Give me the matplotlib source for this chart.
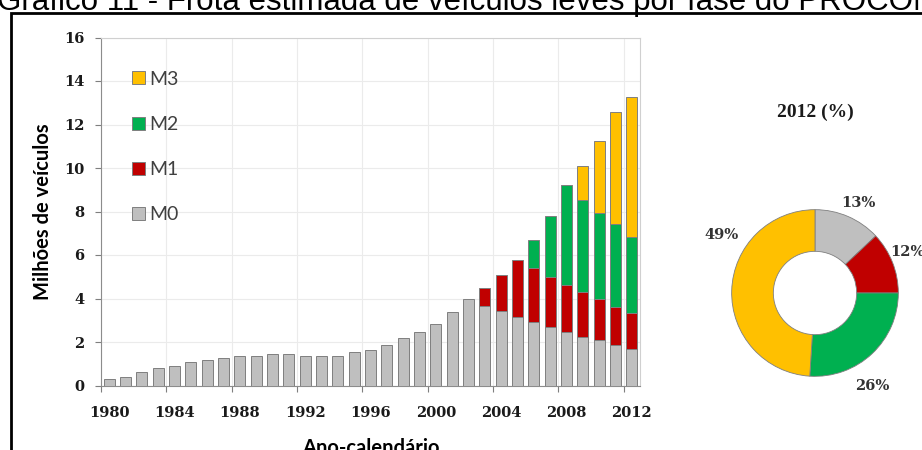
import matplotlib.pyplot as plt
import matplotlib.patches as mpatches
import numpy as np

# Frota por fase (milhões de veículos), 1980-2012
anos = list(range(1980, 2013))
m0 = [0.28, 0.39, 0.62, 0.82, 0.91, 1.08, 1.17, 1.26, 1.34, 1.36, 1.45, 1.45,
      1.36, 1.36, 1.36, 1.53, 1.62, 1.87, 2.19, 2.48, 2.84, 3.37, 3.98, 3.65,
      3.42, 3.14, 2.91, 2.71, 2.48, 2.25, 2.07, 1.88, 1.69]
m1 = [0] * 23 + [0.82, 1.67, 2.65, 2.48, 2.27, 2.15, 2.04, 1.91, 1.75, 1.64]
m2 = [0] * 26 + [1.31, 2.81, 4.57, 4.22, 3.94, 3.80, 3.49]
m3 = [0] * 29 + [1.59, 3.30, 5.14, 6.44]

# composição em 2012 (%)
fases = ["M0", "M1", "M2", "M3"]
pct_2012 = [13, 12, 26, 49]

cores = {"M0": "#BFBFBF", "M1": "#C00000", "M2": "#00B050", "M3": "#FFC000"}
borda = "#7F7F7F"

fig = plt.figure(figsize=(9.22, 4.5), dpi=100)

# título (cortado no topo)
fig.text(-0.003, 1 - 10 / 450, "Gráfico 11 - Frota estimada de veículos leves por fase do PROCONVE",
         family="Liberation Sans", fontsize=22.5, va="baseline", ha="left")

# moldura
fig.patches.append(mpatches.Rectangle((11 / 922, -0.1), 1.2, 1 - 13 / 450 + 0.1,
                                      transform=fig.transFigure, fill=False,
                                      edgecolor="black", linewidth=2))

# barras empilhadas
ax = fig.add_axes([101 / 922, 1 - 385.5 / 450, 539 / 922, 348 / 450])
x = np.arange(len(anos))
base = np.zeros(len(anos))
for nome, vals in [("M0", m0), ("M1", m1), ("M2", m2), ("M3", m3)]:
    vals = np.array(vals)
    mask = vals > 0
    ax.bar(x[mask], vals[mask], bottom=base[mask], width=0.66, color=cores[nome],
           edgecolor=borda, linewidth=0.7, zorder=3)
    base = base + vals

ax.set_xlim(-0.5, len(anos) - 0.5)
ax.set_ylim(0, 16)
ax.set_yticks(range(0, 17, 2))
# marcas entre categorias, rótulos no centro das barras
ax.set_xticks(np.arange(-0.5, len(anos), 4))
ax.set_xticklabels([])
ax.set_xticks(x[::4], minor=True)
ax.set_xticklabels([str(a) for a in anos[::4]], minor=True)
ax.grid(True, which="major", color="#EBEBEB", linewidth=0.8, zorder=0)
ax.tick_params(axis="both", colors="#7F7F7F", labelcolor="#1A1A1A", length=4, width=0.8, pad=8)
ax.tick_params(axis="x", which="minor", length=0, pad=15, labelcolor="#1A1A1A")
for lbl in ax.get_xticklabels(minor=True) + ax.get_yticklabels():
    lbl.set_family("DejaVu Serif")
    lbl.set_fontsize(10.5)
    lbl.set_fontweight("bold")
ax.spines["left"].set_color("#8C8C8C")
ax.spines["bottom"].set_color("#8C8C8C")
ax.spines["top"].set_color("#D0D0D0")
ax.spines["right"].set_color("#D0D0D0")

ax.set_ylabel("Milhões de veículos", family="Lato", fontweight="bold", fontsize=14.5, labelpad=8)
ax.set_xlabel("Ano-calendário", family="Lato", fontweight="bold", fontsize=14.5, labelpad=13)

handles = [mpatches.Patch(facecolor=cores[n], edgecolor=borda, linewidth=0.7, label=n)
           for n in ["M3", "M2", "M1", "M0"]]
ax.legend(handles=handles, loc="upper left", bbox_to_anchor=(0.025, 0.955), frameon=False,
          prop={"family": "Lato", "size": 14}, labelcolor="#404040",
          handlelength=0.65, handleheight=0.65, handletextpad=0.25, labelspacing=1.45)

# rosca 2012
axp = fig.add_axes([(815 - 90) / 922, 1 - (293 + 90) / 450, 180 / 922, 180 / 450])
axp.pie(pct_2012, colors=[cores[f] for f in fases], startangle=90, counterclock=False,
        radius=1, wedgeprops=dict(width=0.5, edgecolor=borda, linewidth=0.6))
axp.set_xlim(-1.08, 1.08)
axp.set_ylim(-1.08, 1.08)
axp.set_aspect("equal")
axp.axis("off")

pos_rotulos = [(0.52, 1.08), (1.11, 0.49), (0.69, -1.11), (-1.12, 0.70)]
for (px, py), p in zip(pos_rotulos, pct_2012):
    axp.text(px, py, f"{p}%", ha="center", va="center", family="DejaVu Serif",
             fontweight="bold", fontsize=10.5, color="#333333")

fig.text(815 / 922, 1 - 112 / 450, "2012 (%)", ha="center", va="center",
         family="Liberation Serif", fontweight="bold", fontsize=14, color="#1A1A1A")

fig.savefig("out.png", dpi=100)
